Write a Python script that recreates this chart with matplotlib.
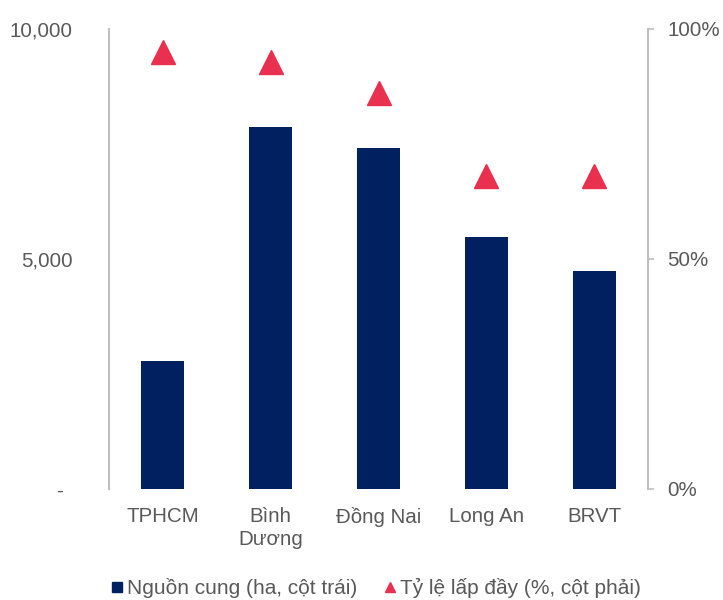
import matplotlib
matplotlib.use("Agg")
import matplotlib.pyplot as plt
import matplotlib.transforms as mtransforms
from matplotlib.lines import Line2D
from matplotlib.ticker import FuncFormatter

plt.rcParams['font.family'] = ['Liberation Sans', 'DejaVu Sans']

categories = ["TPHCM", "Bình\nDương", "Đồng Nai", "Long An", "BRVT"]
supply_ha = [2780, 7870, 7420, 5480, 4740]      # Nguồn cung (ha)
occupancy = [0.95, 0.928, 0.86, 0.68, 0.68]     # Tỷ lệ lấp đầy

navy = "#002060"
red = "#E9304F"
grey_txt = "#595959"
grey_line = "#BFBFBF"

fig = plt.figure(figsize=(7.23, 6), dpi=100)
ax = fig.add_axes([0.1508, 0.185, 0.7455, 0.7667])
x = range(len(categories))

ax.bar(x, supply_ha, width=0.4, color=navy, zorder=2)
ax.set_xlim(-0.5, 4.5)
ax.set_ylim(0, 10000)
ax.set_yticks([0, 5000, 10000])
ax.yaxis.set_major_formatter(FuncFormatter(lambda v, p: "-" if v == 0 else f"{v:,.0f}"))
ax.tick_params(axis='y', length=0, pad=26, labelsize=14.8, labelcolor=grey_txt)
ax.set_xticks(list(x))
ax.set_xticklabels(categories, linespacing=1.27)
ax.tick_params(axis='x', length=0, pad=13, labelsize=14.8, labelcolor=grey_txt)

for s in ['top', 'bottom', 'right']:
    ax.spines[s].set_visible(False)
ax.spines['left'].set_color(grey_line)
ax.spines['left'].set_linewidth(1.5)

ax2 = ax.twinx()
ax2.plot(list(x), occupancy, linestyle='none', marker='^', markersize=17, color=red, zorder=3)
ax2.set_ylim(0, 1)
ax2.set_yticks([0, 0.5, 1])
ax2.yaxis.set_major_formatter(FuncFormatter(lambda v, p: f"{v*100:.0f}%"))
ax2.tick_params(axis='y', length=4, width=1.2, color=grey_line, pad=10, labelsize=14.8, labelcolor=grey_txt)
for s in ['top', 'bottom', 'left']:
    ax2.spines[s].set_visible(False)
ax2.spines['right'].set_color(grey_line)
ax2.spines['right'].set_linewidth(1.5)

# shift the "-" zero label a bit left, like the accounting format
fig.canvas.draw()
zero_lbl = ax.get_yticklabels()[0]
zero_lbl.set_transform(zero_lbl.get_transform() + mtransforms.ScaledTranslation(-10 / 100, 0, fig.dpi_scale_trans))

handles = [
    Line2D([], [], linestyle='none', marker='s', markersize=7, color=navy),
    Line2D([], [], linestyle='none', marker='^', markersize=7, color=red),
]
labels = ["Nguồn cung (ha, cột trái)", "Tỷ lệ lấp đầy (%, cột phải)"]
fig.legend(handles, labels, loc='center left', bbox_to_anchor=(0.127, 0.02), ncol=2,
           frameon=False, fontsize=15, handlelength=0.6, handletextpad=0.2,
           columnspacing=1.25, labelcolor=grey_txt)

fig.savefig("out.png", dpi=100)
